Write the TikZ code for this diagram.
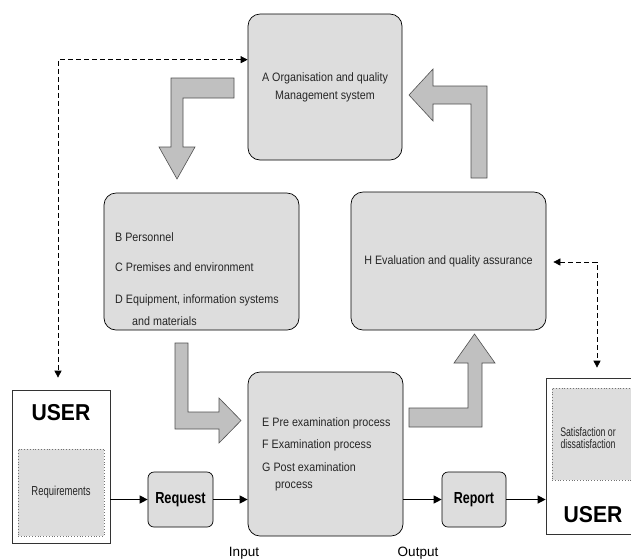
\documentclass[tikz,border=0pt]{standalone}
\usepackage{fontspec}
\setmainfont{Liberation Sans}
\usepackage{graphicx}
\usetikzlibrary{arrows.meta}
\definecolor{boxfill}{HTML}{DDDDDD}
\definecolor{arrfill}{HTML}{C0C0C0}
\definecolor{arredge}{HTML}{505050}
\newcommand\hsq[2]{\scalebox{#1}[1]{#2}}
\newcommand\mt[1]{\scalebox{0.88}[1]{#1}}
\begin{document}
\begin{tikzpicture}[x=1pt,y=-1pt,
  rbox/.style={draw=black, line width=0.7pt, fill=boxfill, rounded corners=12pt, inner sep=0pt},
  sbox/.style={draw=black, line width=0.7pt, fill=boxfill, rounded corners=6pt, inner sep=0pt},
  ubox/.style={draw=black!80, line width=0.7pt, fill=white, inner sep=0pt},
  dbox/.style={draw=black!55, dotted, line width=0.8pt, fill=boxfill, inner sep=0pt},
  txt/.style={font=\fontsize{12.2}{13}\selectfont, text=black!85, inner sep=0pt},
  big/.style={font=\fontsize{23}{25}\selectfont\bfseries, text=black, inner sep=0pt},
  mid/.style={font=\fontsize{16}{18}\selectfont\bfseries, text=black, inner sep=0pt},
  blockarrow/.style={fill=arrfill, draw=arredge, line width=0.6pt, line join=miter},
  dasharr/.style={dash pattern=on 5pt off 3pt, line width=0.7pt, {Triangle[length=7pt,width=7pt]}-{Triangle[length=7pt,width=7pt]}},
  solarr/.style={line width=1.2pt, -{Triangle[length=8pt,width=8pt]}},
]
\clip (0,0) rectangle (631,558);
\fill[white] (0,0) rectangle (631,558);

% main boxes
\node[rbox, minimum width=154pt, minimum height=146pt, align=center,
      font=\fontsize{12.2}{18}\selectfont, text=black!85] (A) at (325,87)
      {\mt{A Organisation and quality}\\\mt{Management system}};
\node[rbox, minimum width=195pt, minimum height=137pt] (B) at (201.5,261.5) {};
\node[rbox, minimum width=195pt, minimum height=138pt,
      font=\fontsize{12.2}{13}\selectfont, text=black!85] (H) at (448.5,261)
      {\mt{H Evaluation and quality assurance}};
\node[rbox, minimum width=155pt, minimum height=164pt] (E) at (325.5,454) {};

% B texts
\node[txt, anchor=west] (b1) at (115,237) {\mt{B Personnel}};
\node[txt, anchor=west] (b2) at (115,267) {\mt{C Premises and environment}};
\node[txt, anchor=west] (b3) at (115,300) {\mt{D Equipment, information systems}};
\node[txt, anchor=west] (b4) at (132,321) {\mt{and materials}};

% E texts
\node[txt, anchor=west] (e1) at (262,423) {\mt{E Pre examination process}};
\node[txt, anchor=west] (e2) at (262,445) {\mt{F Examination process}};
\node[txt, anchor=west] (e3) at (262,467) {\mt{G Post examination}};
\node[txt, anchor=west] (e4) at (275,486) {\mt{process}};

% small boxes
\node[sbox, minimum width=65pt, minimum height=55pt, mid] (Request) at (180.5,499.5) {\hsq{0.8}{Request}};
\node[sbox, minimum width=64pt, minimum height=55pt, mid] (Report) at (474,499.5) {\hsq{0.78}{Report}};

% users
\node[ubox, minimum width=98pt, minimum height=153pt] (userL) at (61,466.5) {};
\node[big] (userLt) at (61,413) {\hsq{0.92}{USER}};
\node[dbox, minimum width=86pt, minimum height=87pt,
      font=\fontsize{13}{14}\selectfont, text=black!85] (reqbox) at (61,492.5) {\hsq{0.73}{Requirements}};

\node[ubox, minimum width=94pt, minimum height=156pt] (userR) at (593,456) {};
\node[dbox, minimum width=88pt, minimum height=92pt] (satbox) at (596,434) {};
\node[font=\fontsize{12.5}{12.5}\selectfont, text=black!85, inner sep=0pt, align=center] (sattxt) at (588,438)
      {\hsq{0.7}{Satisfaction or}\\\hsq{0.7}{dissatisfaction}};
\node[big] (userRt) at (593,515) {\hsq{0.92}{USER}};

% input / output labels
\node[font=\fontsize{13.5}{15}\selectfont, inner sep=0pt] (inlbl) at (244,553) {Input};
\node[font=\fontsize{13.5}{15}\selectfont, inner sep=0pt] (outlbl) at (418,553) {Output};

% block arrows
\draw[blockarrow] (234,78) -- (171,78) -- (171,147) -- (159,147) -- (177,179)
  -- (195,147) -- (183,147) -- (183,98) -- (234,98) -- cycle;
\draw[blockarrow] (471,178) -- (471,104) -- (433,104) -- (433,121) -- (409,95)
  -- (433,69) -- (433,86) -- (487,86) -- (487,178) -- cycle;
\draw[blockarrow] (175,343) -- (175,429) -- (219,429) -- (219,443) -- (241,420.5)
  -- (219,398) -- (219,412) -- (188,412) -- (188,343) -- cycle;
\draw[blockarrow] (409,408) -- (409,427) -- (482,427) -- (482,363) -- (495,363)
  -- (474.5,334) -- (454,363) -- (468,363) -- (468,408) -- cycle;

% dashed feedback arrows
\draw[dasharr] ([yshift=-46pt]A.north west) -| ([xshift=-3pt,yshift=12pt]userL.north);
\draw[dasharr] ([xshift=7pt,yshift=-1pt]H.east) -| ([xshift=4pt,yshift=10pt]userR.north);

% flow arrows
\draw[solarr] (userL.east |- Request.west) -- (Request.west);
\draw[solarr] (Request.east) -- (E.west |- Request.east);
\draw[solarr] (E.east |- Report.west) -- (Report.west);
\draw[solarr] (Report.east) -- (userR.west |- Report.east);
\end{tikzpicture}
\end{document}
